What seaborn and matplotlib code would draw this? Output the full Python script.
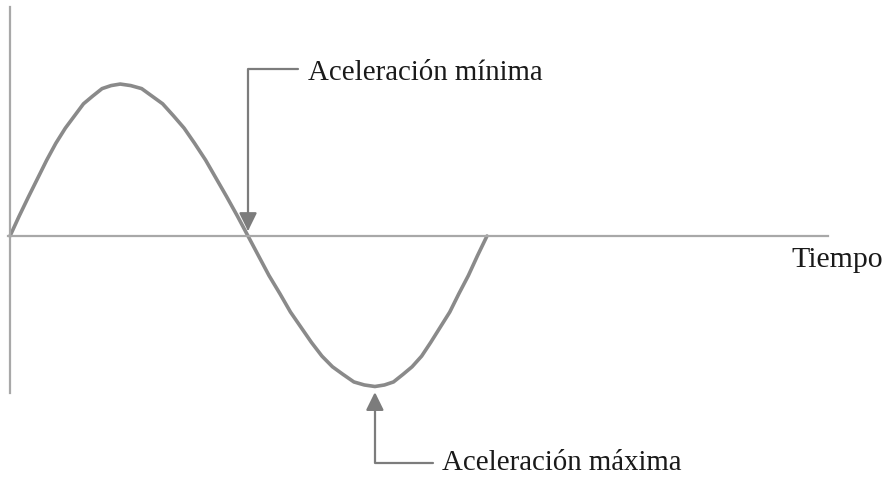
import matplotlib
matplotlib.use('Agg')
import matplotlib.pyplot as plt
import seaborn as sns
import pandas as pd

# curve (time in periods, acceleration in units of amplitude)
tiempo = [0.000, 0.019, 0.039, 0.058, 0.077, 0.096, 0.116, 0.135, 0.154, 0.173, 0.193, 0.212, 0.231,
          0.253, 0.276, 0.298, 0.320, 0.343, 0.365, 0.387, 0.410, 0.432, 0.454, 0.477, 0.499,
          0.521, 0.543, 0.566, 0.588, 0.610, 0.632, 0.654, 0.676, 0.698, 0.721, 0.743, 0.765,
          0.785, 0.804, 0.824, 0.843, 0.863, 0.882, 0.902, 0.922, 0.941, 0.961, 0.980, 1.000]
aceleracion = [0.00, 0.13, 0.26, 0.38, 0.50, 0.61, 0.71, 0.79, 0.87, 0.92, 0.97, 0.99, 1.00,
               0.99, 0.97, 0.92, 0.87, 0.79, 0.71, 0.61, 0.50, 0.38, 0.26, 0.13, 0.00,
               -0.13, -0.26, -0.38, -0.50, -0.60, -0.70, -0.79, -0.86, -0.91, -0.96, -0.98, -0.99,
               -0.98, -0.96, -0.91, -0.86, -0.79, -0.70, -0.60, -0.50, -0.38, -0.26, -0.13, 0.00]

label_min = 'Aceleración mínima'
label_max = 'Aceleración máxima'
label_x = 'Tiempo'

df = pd.DataFrame({'Tiempo': tiempo, 'Aceleracion': aceleracion})

sns.set_style('white')
plt.rcParams['font.family'] = ['Liberation Serif', 'DejaVu Serif']

fig = plt.figure(figsize=(8.9, 4.78), dpi=100)
ax = fig.add_axes([0, 0, 1, 1])

sns.lineplot(data=df, x='Tiempo', y='Aceleracion', ax=ax, color='#8a8a8a',
             linewidth=2.6, sort=False, solid_capstyle='round', solid_joinstyle='round')

ax.set_xlim(-0.021, 1.845)
ax.set_ylim(-1.592, 1.553)

# axes drawn as spines through the origin
for side in ['top', 'right']:
    ax.spines[side].set_visible(False)
ax.spines['left'].set_position(('data', 0))
ax.spines['bottom'].set_position(('data', 0))
ax.spines['left'].set_bounds(-1.033, 1.507)
ax.spines['bottom'].set_bounds(-0.004, 1.715)
for side in ['left', 'bottom']:
    ax.spines[side].set_color('#a8a8a8')
    ax.spines[side].set_linewidth(1.6)
ax.set_xticks([])
ax.set_yticks([])
ax.set_xlabel('')
ax.set_ylabel('')

# zero crossing (min accel) and trough (max accel)
i_zero = aceleracion.index(0.00, 1)
i_trough = aceleracion.index(min(aceleracion))

arrow_kw = dict(arrowstyle='-|>,head_length=0.55,head_width=0.27',
                color='#7c7c7c', lw=1.6, mutation_scale=20, shrinkA=0)

ax.annotate('', xy=(tiempo[i_zero], aceleracion[i_zero]), xytext=(0.604, 1.099),
            arrowprops=dict(connectionstyle='angle,angleA=180,angleB=90,rad=0',
                            shrinkB=3.6, **arrow_kw))
ax.text(0.625, 1.026, label_min, fontsize=20.8, color='#1a1a1a',
        ha='left', va='baseline')

ax.annotate('', xy=(tiempo[i_trough], aceleracion[i_trough]), xytext=(0.887, -1.493),
            arrowprops=dict(connectionstyle='angle,angleA=180,angleB=90,rad=0',
                            shrinkB=4.0, **arrow_kw))
ax.text(0.906, -1.539, label_max, fontsize=20.8, color='#1a1a1a',
        ha='left', va='baseline')

ax.text(1.639, -0.204, label_x, fontsize=21.5, color='#1a1a1a',
        ha='left', va='baseline')

plt.savefig('out.png', dpi=100)
